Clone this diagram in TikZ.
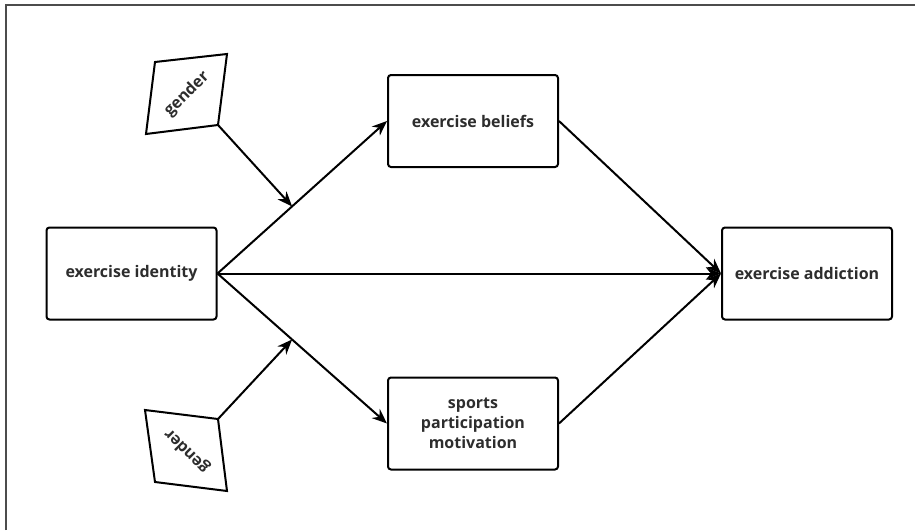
\documentclass[tikz,border=0pt]{standalone}
\usepackage{fontspec}
\setmainfont{Open Sans}
\usetikzlibrary{arrows.meta,calc}
\definecolor{txtgray}{RGB}{45,45,45}
\begin{document}
\begin{tikzpicture}[x=1pt,y=-1pt,
  lbl/.style={font=\fontsize{16}{20}\selectfont\bfseries,text=txtgray},
  boxnode/.style={lbl,draw=black,line width=2pt,rounded corners=3pt,minimum width=170pt,minimum height=92pt,align=center},
  arr/.style={line width=2pt,-{Stealth[length=15pt,width=12pt]}},
  quad/.style={draw=black,line width=2pt,fill=white}]
\useasboundingbox (0,0) rectangle (915,530);
\draw[line width=2pt,draw=black!70] (6,530) -- (6,5) -- (915,5);
\node[boxnode] (ident) at (131.5,273.5) {exercise identity};
\node[boxnode] (belief) at (473,121) {exercise beliefs};
\node[boxnode] (sports) at (473,423.5) {sports\\participation\\motivation};
\node[boxnode] (addict) at (807,273.5) {exercise addiction};
% gender shapes
\draw[quad] (155,62) -- (227,54) -- (218,125) coordinate (g1c) -- (146,134) -- cycle;
\node[lbl,rotate=45] (gtop) at (187,94) {gender};
\draw[quad] (145,410) -- (218,419) coordinate (g2c) -- (227,491) -- (155,482) -- cycle;
\node[lbl,rotate=135] (gbot) at (187,451) {gender};
% arrows
\draw[arr] (ident.east) -- (belief.west) coordinate[pos=0.44] (m1);
\draw[arr] (ident.east) -- (sports.west) coordinate[pos=0.44] (m2);
\draw[arr] (ident.east) -- (addict.west);
\draw[arr] (belief.east) -- (addict.west);
\draw[arr] (sports.east) -- (addict.west);
\draw[arr] (g1c) -- (m1);
\draw[arr] (g2c) -- (m2);
\end{tikzpicture}
\end{document}
